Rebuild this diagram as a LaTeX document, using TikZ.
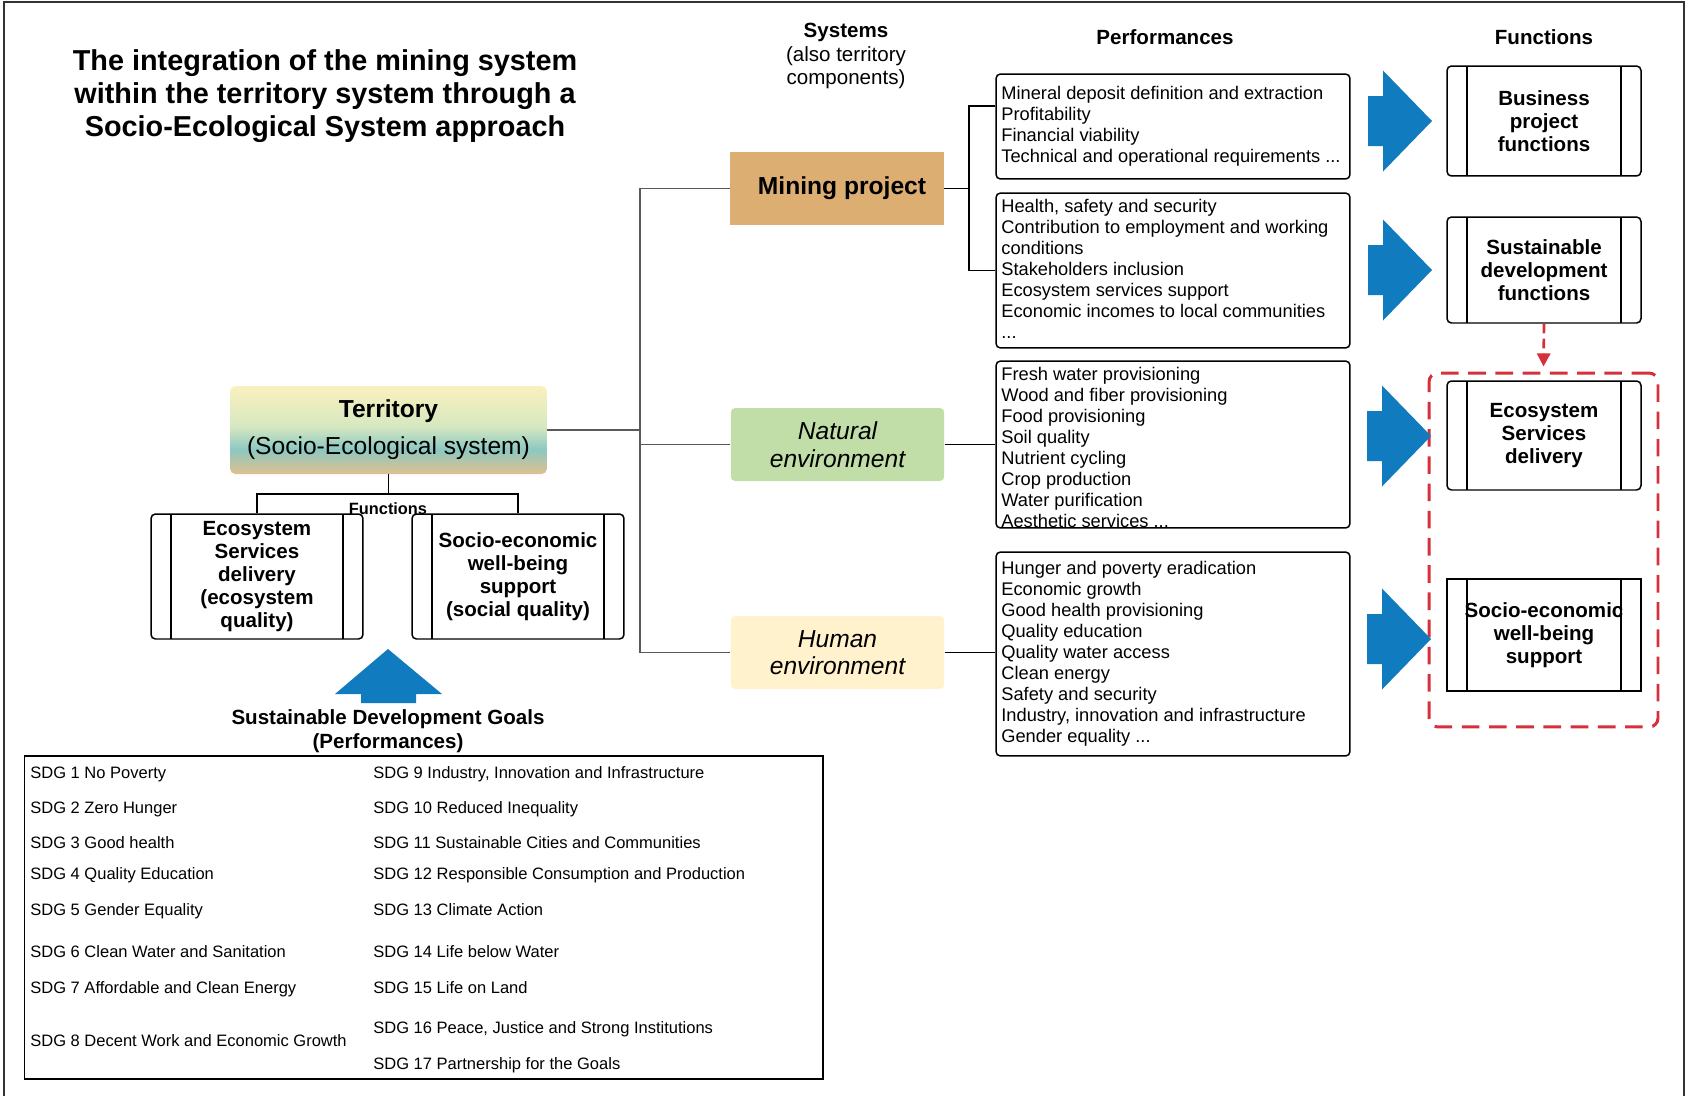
\documentclass[tikz,border=0pt]{standalone}
\usepackage{fontspec}
\setmainfont{Liberation Sans}
\usetikzlibrary{arrows.meta}

\definecolor{minetan}{RGB}{220,174,114}
\definecolor{natgreen}{RGB}{193,221,168}
\definecolor{humyellow}{RGB}{255,242,204}
\definecolor{arrowblue}{RGB}{16,123,190}
\definecolor{dashred}{RGB}{214,48,60}
\definecolor{terrtop}{RGB}{250,240,190}
\definecolor{terrmid}{RGB}{214,232,192}
\definecolor{terrteal}{RGB}{140,200,194}
\definecolor{terrbot}{RGB}{224,192,142}

\pgfdeclareverticalshading{terrshade}{100bp}{color(0bp)=(terrbot); color(25bp)=(terrbot); color(39bp)=(terrteal); color(52bp)=(terrmid); color(75bp)=(terrtop); color(100bp)=(terrtop)}

\newcommand{\etcdots}{...}

\tikzset{
  frameline/.style={draw=black!80, line width=1.1pt},
  grayline/.style={draw=black!65, line width=0.7pt},
  link/.style={draw=black, line width=0.85pt},
  titletxt/.style={align=center, inner sep=0pt, font=\bfseries\fontsize{16.4}{18.7}\selectfont},
  headtxt/.style={align=center, inner sep=0pt, font=\fontsize{11.7}{13.4}\selectfont},
  sysbox/.style={minimum width=4.27cm, minimum height=1.46cm, inner sep=0pt, align=center, font=\fontsize{14}{15.7}\selectfont},
  terrbox/.style={minimum width=6.34cm, minimum height=1.76cm, rounded corners=3pt, shade, shading=terrshade, align=center, inner sep=0pt, font=\fontsize{14}{21}\selectfont},
  perfbox/.style={draw, line width=0.85pt, rounded corners=2.5pt, minimum width=7.08cm, inner sep=0pt},
  perftxt/.style={anchor=base west, inner sep=0pt, font=\fontsize{10.4}{12}\selectfont},
  sdgtxt/.style={anchor=base west, inner sep=0pt, font=\fontsize{9.4}{11}\selectfont},
  funbox/.style={draw, line width=0.85pt, rounded corners=2.5pt, inner sep=0pt, align=center,
    font=\bfseries\fontsize{11.7}{13.1}\selectfont,
    path picture={\draw[line width=0.85pt]
      ([xshift=0.4cm]path picture bounding box.north west) -- ([xshift=0.4cm]path picture bounding box.south west)
      ([xshift=-0.4cm]path picture bounding box.north east) -- ([xshift=-0.4cm]path picture bounding box.south east);}},
  redframe/.style={draw=dashred, line width=1.7pt, dash pattern=on 10pt off 5.5pt, rounded corners=5pt, minimum width=4.58cm, minimum height=7.08cm, inner sep=0pt},
  bluearrow/.pic={\fill[arrowblue] (-64,-25) -- (-49,-25) -- (-49,-50.5) -- (0,0) -- (-49,50.5) -- (-49,25) -- (-64,25) -- cycle;}
}

\begin{document}
\begin{tikzpicture}[x=0.02cm,y=-0.02cm]
\useasboundingbox (0,0) rectangle (1686,1096);
% outer frame
\draw[frameline] (4,1096) -- (4,2) -- (1684,2) -- (1684,1096);

% headings
\node[titletxt] (title) at (325,96) {The integration of the mining system\\within the territory system through a\\Socio-Ecological System approach};
\node[headtxt] (syshead) at (846,56) {\textbf{Systems}\\(also territory\\components)};
\node[headtxt, font=\bfseries\fontsize{11.7}{13.4}\selectfont] (perfhead) at (1165,37) {Performances};
\node[headtxt, font=\bfseries\fontsize{11.7}{13.4}\selectfont] (funhead) at (1544,37) {Functions};

% territory and its functions
\node[terrbox] (terr) at (388.5,430) {\textbf{Territory}\\(Socio-Ecological system)};
\node[funbox, minimum width=4.24cm, minimum height=2.5cm] (lfun) at (257,576.5) {Ecosystem\\Services\\delivery\\(ecosystem\\quality)};
\node[funbox, minimum width=4.24cm, minimum height=2.5cm] (rfun) at (518,576.5) {Socio-economic\\well-being\\support\\(social quality)};
\node[inner sep=0pt, font=\bfseries\fontsize{9.3}{11}\selectfont] (funlabel) at (388,509) {Functions};
\coordinate (fbar) at (388,494);
\draw[link, line width=0.7pt] (terr.south) -- (terr.south |- fbar);
\draw[link, line width=0.7pt] (lfun.north) -- (lfun.north |- fbar) -- (rfun.north |- fbar) -- (rfun.north);

% SDG block
\fill[arrowblue] (388,649) -- (442,694) -- (416,694) -- (416,703) -- (361,703) -- (361,694) -- (335,694) -- cycle;
\node[headtxt, font=\bfseries\fontsize{11.7}{13.7}\selectfont] (sdghead) at (388,731) {Sustainable Development Goals\\(Performances)};
\node[draw, line width=0.9pt, minimum width=15.97cm, minimum height=6.46cm, inner sep=0pt] (sdgbox) at (423.8,917.5) {};
\foreach \y/\txt [count=\i] in {778/SDG 1 No Poverty, 813/SDG 2 Zero Hunger, 848/SDG 3 Good health,
    879/SDG 4 Quality Education, 915/SDG 5 Gender Equality, 957/SDG 6 Clean Water and Sanitation,
    993/SDG 7 Affordable and Clean Energy, 1046/SDG 8 Decent Work and Economic Growth}
  \node[sdgtxt] (sdgL\i) at (30,\y) {\txt};
\foreach \y/\txt [count=\i] in {778/{SDG 9 Industry, Innovation and Infrastructure}, 813/SDG 10 Reduced Inequality,
    848/SDG 11 Sustainable Cities and Communities, 879/SDG 12 Responsible Consumption and Production,
    915/SDG 13 Climate Action, 957/SDG 14 Life below Water, 993/SDG 15 Life on Land,
    1033/{SDG 16 Peace, Justice and Strong Institutions}, 1069/SDG 17 Partnership for the Goals}
  \node[sdgtxt] (sdgR\i) at (373,\y) {\txt};

% systems
\node[sysbox, fill=minetan, font=\bfseries\fontsize{14}{15.7}\selectfont] (mine) at (837,188.5) {\hspace*{0.2cm}Mining project};
\node[sysbox, fill=natgreen, rounded corners=2.5pt, font=\itshape\fontsize{14}{15.7}\selectfont] (nat) at (837.5,444.5) {Natural\\environment};
\node[sysbox, fill=humyellow, rounded corners=2.5pt, font=\itshape\fontsize{14}{15.7}\selectfont] (human) at (837.5,652.5) {Human\\environment};
\coordinate (tbus) at (640,0);
\draw[grayline] (terr.east) -- (terr.east -| tbus);
\draw[grayline] (mine.west) -- (mine.west -| tbus) -- (human.west -| tbus) -- (human.west);
\draw[grayline] (nat.west) -- (nat.west -| tbus);

% performances
\node[perfbox, minimum height=2.1cm] (perfA) at (1173,126.5) {};
\node[perfbox, minimum height=3.1cm] (perfB) at (1173,270.5) {};
\node[perfbox, minimum height=3.34cm] (perfC) at (1173,444.5) {};
\node[perfbox, minimum height=4.08cm] (perfD) at (1173,654) {};
\foreach \txt [count=\i] in {Mineral deposit definition and extraction, Profitability, Financial viability,
    Technical and operational requirements \etcdots}
  \node[perftxt] (pa\i) at (1001,{99.5+21*(\i-1)}) {\txt};
\foreach \txt [count=\i] in {{Health, safety and security}, Contribution to employment and working, conditions,
    Stakeholders inclusion, Ecosystem services support, Economic incomes to local communities, \etcdots}
  \node[perftxt] (pb\i) at (1001,{212.6+21*(\i-1)}) {\txt};
\foreach \txt [count=\i] in {Fresh water provisioning, Wood and fiber provisioning, Food provisioning, Soil quality,
    Nutrient cycling, Crop production, Water purification, Aesthetic services \etcdots}
  \node[perftxt] (pc\i) at (1001,{380.6+21*(\i-1)}) {\txt};
\foreach \txt [count=\i] in {Hunger and poverty eradication, Economic growth, Good health provisioning, Quality education,
    Quality water access, Clean energy, Safety and security, {Industry, innovation and infrastructure}, Gender equality \etcdots}
  \node[perftxt] (pd\i) at (1001,{574.6+21*(\i-1)}) {\txt};
\coordinate (mbus) at (969,0);
\draw[link] (mine.east) -- (mine.east -| mbus);
\draw[link] ([yshift=0.41cm]perfA.west) -| (perfB.west -| mbus) -- (perfB.west);
\draw[link] (nat.east) -- (perfC.west);
\draw[link] (human.east) -- (human.east -| perfD.west);

% functions
\node[funbox, minimum width=3.88cm, minimum height=2.2cm] (busfun) at (1544,121) {Business\\project\\functions};
\node[funbox, minimum width=3.88cm, minimum height=2.12cm] (sdfun) at (1544,270) {Sustainable\\development\\functions};
\node[funbox, minimum width=3.88cm, minimum height=2.18cm] (esfun) at (1544,435.5) {Ecosystem\\Services\\delivery};
\node[funbox, sharp corners, minimum width=3.88cm, minimum height=2.24cm] (sefun) at (1544,635) {Socio-economic\\well-being\\support};
\node[redframe] (ecoframe) at (1543.5,550) {};
\draw[dashred, line width=1.5pt, dash pattern=on 5.5pt off 3pt, -{Triangle[length=7.5pt,width=7.5pt]}] (sdfun.south) -- ([yshift=0.1cm]ecoframe.north);
\pic (arA) at (1432,121) {bluearrow};
\pic (arB) at (1432,270) {bluearrow};
\pic (arC) at (1431,436) {bluearrow};
\pic (arD) at (1431,639) {bluearrow};
\end{tikzpicture}
\end{document}
